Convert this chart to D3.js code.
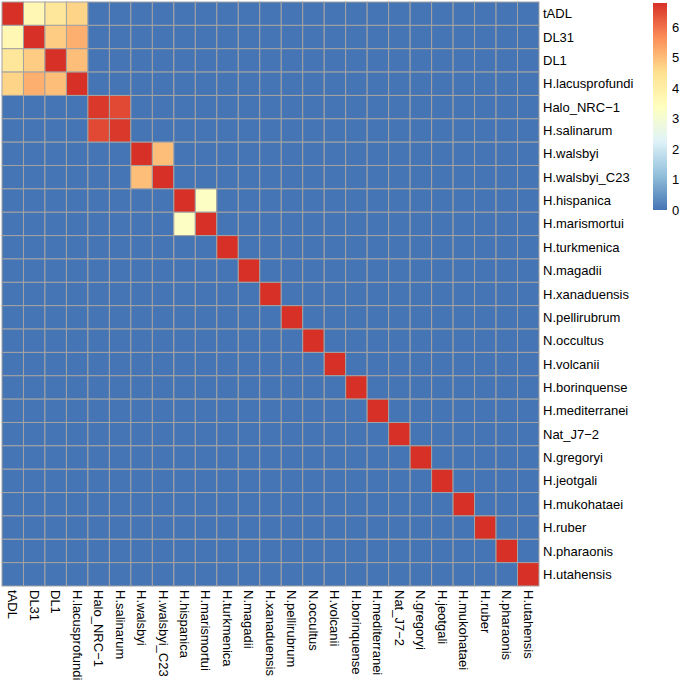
<!DOCTYPE html>
<html>
<head>
<meta charset="utf-8">
<script src="https://cdn.jsdelivr.net/npm/d3@7"></script>
<style>
  html, body { margin: 0; padding: 0; background: #fff; }
  svg { display: block; }
  text { font-family: "Liberation Sans", Arial, Helvetica, sans-serif; fill: #000; }
</style>
</head>
<body>
<svg id="chart" width="680" height="689"></svg>
<script>
// ---- data ----
const taxa = ["tADL","DL31","DL1","H.lacusprofundi","Halo_NRC\u22121","H.salinarum","H.walsbyi","H.walsbyi_C23","H.hispanica","H.marismortui","H.turkmenica","N.magadii","H.xanaduensis","N.pellirubrum","N.occultus","H.volcanii","H.borinquense","H.mediterranei","Nat_J7\u22122","N.gregoryi","H.jeotgali","H.mukohataei","H.ruber","N.pharaonis","H.utahensis"];

const values = [
  [6.8,3.7,4.3,4.7,0,0,0,0,0,0,0,0,0,0,0,0,0,0,0,0,0,0,0,0,0],
  [3.7,6.8,4.8,5.2,0,0,0,0,0,0,0,0,0,0,0,0,0,0,0,0,0,0,0,0,0],
  [4.3,4.8,6.8,5.0,0,0,0,0,0,0,0,0,0,0,0,0,0,0,0,0,0,0,0,0,0],
  [4.7,5.2,5.0,6.8,0,0,0,0,0,0,0,0,0,0,0,0,0,0,0,0,0,0,0,0,0],
  [0,0,0,0,6.7,6.5,0,0,0,0,0,0,0,0,0,0,0,0,0,0,0,0,0,0,0],
  [0,0,0,0,6.5,6.7,0,0,0,0,0,0,0,0,0,0,0,0,0,0,0,0,0,0,0],
  [0,0,0,0,0,0,6.8,5.0,0,0,0,0,0,0,0,0,0,0,0,0,0,0,0,0,0],
  [0,0,0,0,0,0,5.0,6.8,0,0,0,0,0,0,0,0,0,0,0,0,0,0,0,0,0],
  [0,0,0,0,0,0,0,0,6.8,3.3,0,0,0,0,0,0,0,0,0,0,0,0,0,0,0],
  [0,0,0,0,0,0,0,0,3.3,6.8,0,0,0,0,0,0,0,0,0,0,0,0,0,0,0],
  [0,0,0,0,0,0,0,0,0,0,6.8,0,0,0,0,0,0,0,0,0,0,0,0,0,0],
  [0,0,0,0,0,0,0,0,0,0,0,6.8,0,0,0,0,0,0,0,0,0,0,0,0,0],
  [0,0,0,0,0,0,0,0,0,0,0,0,6.8,0,0,0,0,0,0,0,0,0,0,0,0],
  [0,0,0,0,0,0,0,0,0,0,0,0,0,6.8,0,0,0,0,0,0,0,0,0,0,0],
  [0,0,0,0,0,0,0,0,0,0,0,0,0,0,6.8,0,0,0,0,0,0,0,0,0,0],
  [0,0,0,0,0,0,0,0,0,0,0,0,0,0,0,6.8,0,0,0,0,0,0,0,0,0],
  [0,0,0,0,0,0,0,0,0,0,0,0,0,0,0,0,6.8,0,0,0,0,0,0,0,0],
  [0,0,0,0,0,0,0,0,0,0,0,0,0,0,0,0,0,6.8,0,0,0,0,0,0,0],
  [0,0,0,0,0,0,0,0,0,0,0,0,0,0,0,0,0,0,6.8,0,0,0,0,0,0],
  [0,0,0,0,0,0,0,0,0,0,0,0,0,0,0,0,0,0,0,6.8,0,0,0,0,0],
  [0,0,0,0,0,0,0,0,0,0,0,0,0,0,0,0,0,0,0,0,6.8,0,0,0,0],
  [0,0,0,0,0,0,0,0,0,0,0,0,0,0,0,0,0,0,0,0,0,6.8,0,0,0],
  [0,0,0,0,0,0,0,0,0,0,0,0,0,0,0,0,0,0,0,0,0,0,6.8,0,0],
  [0,0,0,0,0,0,0,0,0,0,0,0,0,0,0,0,0,0,0,0,0,0,0,6.8,0],
  [0,0,0,0,0,0,0,0,0,0,0,0,0,0,0,0,0,0,0,0,0,0,0,0,6.8]
];

const legendTicks = [0,1,2,3,4,5,6];
const paletteColors = ["#4575B4","#91BFDB","#E0F3F8","#FFFFBF","#FEE090","#FC8D59","#D73027"];

// ---- drawing ----
const svg = d3.select("#chart");
const gridLeft = 2, gridRight = 539, gridTop = 2, gridBottom = 586;

const x = d3.scaleBand().domain(taxa).range([gridLeft, gridRight]).padding(0);
const y = d3.scaleBand().domain(taxa).range([gridTop, gridBottom]).padding(0);

const vmin = 0;
const vmax = d3.max(values.flat());
const color = d3.scaleLinear()
  .domain(paletteColors.map((_, i) => vmin + (vmax - vmin) * i / (paletteColors.length - 1)))
  .range(paletteColors)
  .interpolate(d3.interpolateRgb);

const cells = [];
values.forEach((row, i) => row.forEach((v, j) => cells.push({r: taxa[i], c: taxa[j], v})));

svg.append("g").selectAll("rect").data(cells).join("rect")
  .attr("x", d => x(d.c))
  .attr("y", d => y(d.r))
  .attr("width", x.bandwidth())
  .attr("height", y.bandwidth())
  .attr("fill", d => color(d.v))
  .attr("stroke", "#a3a3a3")
  .attr("stroke-width", 1);

const fs = 13;

// row labels
svg.append("g").selectAll("text").data(taxa).join("text")
  .attr("x", gridRight + 4)
  .attr("y", d => y(d) + y.bandwidth() / 2)
  .attr("dy", "0.35em")
  .attr("font-size", fs)
  .text(d => d);

// column labels
svg.append("g").selectAll("text").data(taxa).join("text")
  .attr("transform", d => `translate(${x(d) + x.bandwidth() / 2},${gridBottom + 4}) rotate(90)`)
  .attr("dy", "0.35em")
  .attr("text-anchor", "start")
  .attr("font-size", fs)
  .text(d => d);

// legend
const lx = 653, lw = 14, lTop = 3, lBottom = 210;
const ly = d3.scaleLinear().domain([vmin, vmax]).range([lBottom, lTop]);
const defs = svg.append("defs");
const grad = defs.append("linearGradient").attr("id", "lg")
  .attr("x1", 0).attr("y1", 1).attr("x2", 0).attr("y2", 0);
d3.range(0, 101).forEach(k => {
  grad.append("stop").attr("offset", k / 100).attr("stop-color", color(vmin + (vmax - vmin) * k / 100));
});
svg.append("rect").attr("x", lx).attr("y", lTop).attr("width", lw).attr("height", lBottom - lTop)
  .attr("fill", "url(#lg)");

svg.append("g").selectAll("text").data(legendTicks).join("text")
  .attr("x", lx + lw + 5)
  .attr("y", d => ly(d))
  .attr("dy", "0.35em")
  .attr("font-size", fs)
  .text(d => d);
</script>
</body>
</html>
